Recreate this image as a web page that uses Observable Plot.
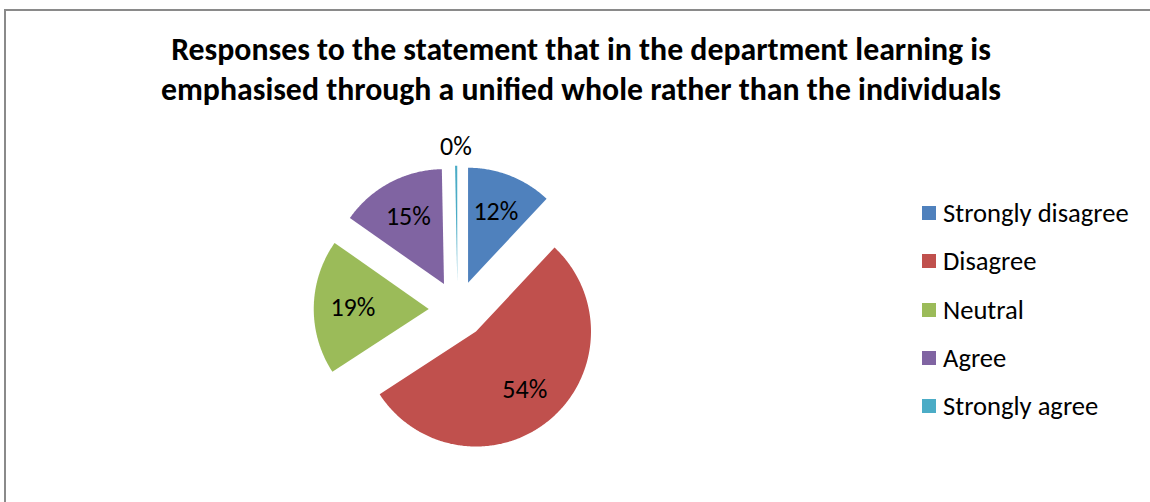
<!DOCTYPE html>
<html>
<head>
<meta charset="utf-8">
<script src="https://cdn.jsdelivr.net/npm/d3@7"></script>
<script src="https://cdn.jsdelivr.net/npm/@observablehq/plot@0.6"></script>
<style>
  body { margin: 0; background: #fff; }
  #frame { position: relative; width: 1150px; height: 502px; overflow: hidden; background: #fff;
           font-family: Carlito, Calibri, Lato, "Open Sans", sans-serif; color: #000; }
  #border { position: absolute; left: 4px; top: 9px; width: 1200px; height: 600px;
            border-top: 2px solid #8a8a8a; border-left: 2px solid #8a8a8a; }
  #title { position: absolute; top: 30px; left: 0; width: 1162px; text-align: center;
           font-weight: bold; font-size: 31.8px; line-height: 40px; }
  #chart { position: absolute; left: 257px; top: 109px; }
  #legend { position: absolute; left: 922px; top: 189px; }
  .row { height: 48.25px; display: flex; align-items: center; font-size: 26.6px; white-space: nowrap; }
  .sw { width: 14px; height: 14px; margin-right: 7px; flex: none; }
</style>
</head>
<body>
<div id="frame">
  <div id="border"></div>
  <div id="title"></div>
  <div id="chart"></div>
  <div id="legend"></div>
</div>
<script>
const titleLines = [
  "Responses to the statement that in the department learning is",
  "emphasised through a unified whole rather than the individuals"
];
const categories = ["Strongly disagree", "Disagree", "Neutral", "Agree", "Strongly agree"];
const values = [12, 54, 19, 15, 0.3];
const colors = ["#4F81BD", "#C0504D", "#9BBB59", "#8064A2", "#4BACC6"];

// title
document.getElementById("title").innerHTML = titleLines.map(t => `<div>${t}</div>`).join("");

// legend
document.getElementById("legend").innerHTML = categories.map((c, i) =>
  `<div class="row"><div class="sw" style="background:${colors[i]}"></div><span>${c}</span></div>`).join("");

// pie geometry (in units of the radius), exploded slices
const explode = 0.25;
const labelR = 0.66;
const outsideR = 1.17;
const total = d3.sum(values);
const arcs = d3.pie().sort(null).value(d => d)(values);
const pts = [];
const labels = [];
arcs.forEach((a, i) => {
  const cat = categories[i];
  const mid = (a.startAngle + a.endAngle) / 2;
  const ox = explode * Math.sin(mid), oy = explode * Math.cos(mid);
  pts.push({cat, x: ox, y: oy});
  const n = Math.max(2, Math.ceil((a.endAngle - a.startAngle) / 0.01));
  for (let k = 0; k <= n; k++) {
    const t = a.startAngle + (a.endAngle - a.startAngle) * k / n;
    pts.push({cat, x: ox + Math.sin(t), y: oy + Math.cos(t)});
  }
  pts.push({cat, x: ox, y: oy});
  const pct = 100 * values[i] / total;
  const lr = pct < 1 ? outsideR : labelR;
  labels.push({cat, x: ox + lr * Math.sin(mid), y: oy + lr * Math.cos(mid), text: Math.round(pct) + "%"});
});

const half = 200 / 115;
const chart = Plot.plot({
  width: 400, height: 400,
  margin: 0,
  x: {domain: [-half, half], axis: null},
  y: {domain: [-half, half], axis: null},
  color: {domain: categories, range: colors},
  style: {fontFamily: 'Carlito, Calibri, Lato, "Open Sans", sans-serif', background: "transparent"},
  marks: [
    Plot.line(pts, {x: "x", y: "y", z: "cat", fill: "cat", stroke: null, curve: "linear"}),
    Plot.text(labels, {x: "x", y: "y", text: "text", fontSize: 26, fill: "#000"})
  ]
});
document.getElementById("chart").appendChild(chart);
</script>
</body>
</html>
